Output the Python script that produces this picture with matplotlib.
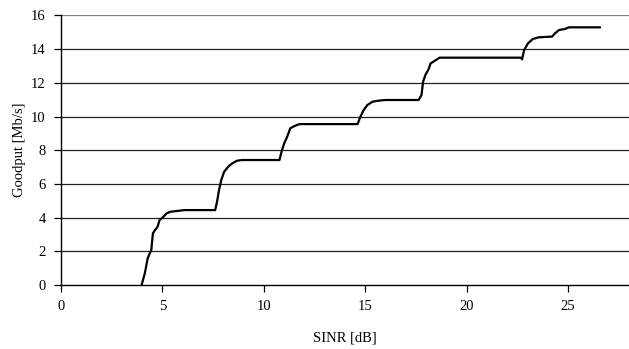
import numpy as np
import matplotlib.pyplot as plt

# curve (SINR in dB, goodput in Mb/s)
sinr = [3.97, 4.13, 4.27, 4.37, 4.45, 4.53, 4.63, 4.76, 4.86, 5.0, 5.2, 5.38,
        5.67, 6.07, 7.6, 7.69, 7.79, 7.9, 8.04, 8.24, 8.44, 8.68, 8.93, 10.77,
        10.87, 11.0, 11.15, 11.3, 11.5, 11.76, 14.62, 14.76, 14.92, 15.1, 15.36,
        15.65, 15.99, 17.63, 17.77, 17.85, 17.96, 18.12, 18.22, 18.42, 18.66,
        22.67, 22.73, 22.83, 23.02, 23.26, 23.56, 24.21, 24.35, 24.55, 24.84,
        25.04, 26.56]
goodput = [0.0, 0.69, 1.58, 1.88, 2.08, 3.07, 3.26, 3.46, 3.86, 4.0, 4.25, 4.35,
           4.39, 4.45, 4.45, 4.94, 5.64, 6.23, 6.72, 7.02, 7.22, 7.38, 7.42, 7.42,
           7.91, 8.4, 8.8, 9.3, 9.43, 9.55, 9.55, 9.99, 10.38, 10.68, 10.88,
           10.94, 10.98, 10.98, 11.27, 12.07, 12.46, 12.8, 13.15, 13.3, 13.49,
           13.49, 13.39, 13.94, 14.34, 14.6, 14.7, 14.74, 14.93, 15.13, 15.19,
           15.29, 15.29]

x_ticks = [0, 5, 10, 15, 20, 25]
y_ticks = np.arange(0, 17, 2)

plt.rcParams['font.family'] = ['Liberation Serif', 'DejaVu Serif']
plt.rcParams['font.size'] = 10.5

fig = plt.figure(figsize=(6.29, 3.49), dpi=100)
ax = fig.add_axes([0.097, 0.183, 0.903, 0.773])

for y in y_ticks:
    if y == 0:
        continue
    ax.axhline(y, color='#808080' if y == 16 else '#222222', linewidth=0.9, zorder=1)

ax.plot(sinr, goodput, color='black', linewidth=1.6, zorder=3)

ax.set_xlim(0, 28)
ax.set_ylim(0, 16)
ax.set_xticks(x_ticks)
ax.set_yticks(y_ticks)
ax.tick_params(direction='out', length=5, width=0.9, pad=6, color='black')
ax.spines['top'].set_visible(False)
ax.spines['right'].set_visible(False)
for s in ['left', 'bottom']:
    ax.spines[s].set_linewidth(1.0)
    ax.spines[s].set_zorder(4)

ax.set_xlabel('SINR [dB]', labelpad=13)
ax.set_ylabel('Goodput [Mb/s]', labelpad=4)

fig.savefig('out.png', dpi=100)
